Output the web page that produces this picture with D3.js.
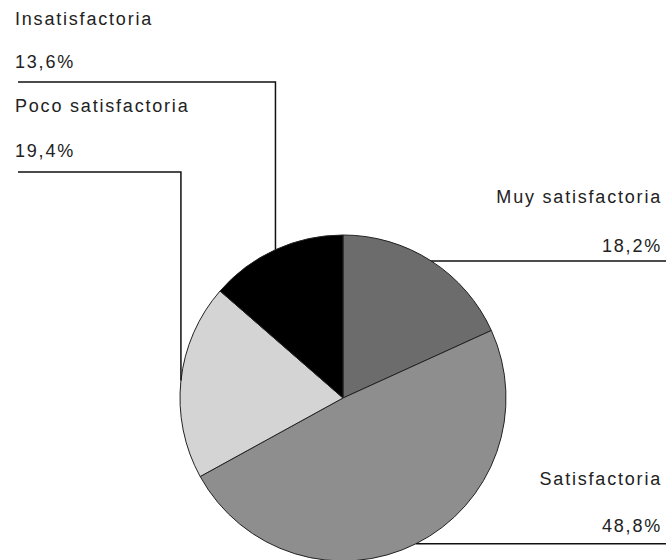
<!DOCTYPE html>
<html>
<head>
<meta charset="utf-8">
<script src="https://cdn.jsdelivr.net/npm/d3@7"></script>
<style>
  body { margin: 0; background: #fff; }
</style>
</head>
<body>
<div id="viz"></div>
<script>
const categories = ["Muy satisfactoria", "Satisfactoria", "Poco satisfactoria", "Insatisfactoria"];
const values = [18.2, 48.8, 19.4, 13.6];
const valueLabels = ["18,2%", "48,8%", "19,4%", "13,6%"];
const colors = ["#6c6c6c", "#8e8e8e", "#d4d4d4", "#000000"];

document.addEventListener("DOMContentLoaded", () => {
    const width = 666;
    const height = 560;
    const cx = 343, cy = 398, radius = 163;

    const svg = d3.select("#viz").append("svg")
        .attr("width", width)
        .attr("height", height);

    const pie = d3.pie().sort(null).value(d => d.value);
    const arcs = pie(categories.map((c, i) => ({ name: c, value: values[i], label: valueLabels[i], color: colors[i] })));
    const arc = d3.arc().innerRadius(0).outerRadius(radius);

    const g = svg.append("g").attr("transform", `translate(${cx},${cy})`);

    g.selectAll("path")
        .data(arcs)
        .enter()
        .append("path")
        .attr("d", arc)
        .attr("fill", d => d.data.color)
        .attr("stroke", "#222")
        .attr("stroke-width", 1);

    // label anchor positions (layout only)
    const labelPos = {
        "Muy satisfactoria": { side: "right", name: 203, pct: 252 },
        "Satisfactoria": { side: "right", name: 485, pct: 532 },
        "Poco satisfactoria": { side: "left", name: 112, pct: 157, line: 172 },
        "Insatisfactoria": { side: "left", name: 25, pct: 68, line: 82 }
    };

    arcs.forEach(d => {
        const mid = (d.startAngle + d.endAngle) / 2;
        const ex = cx + radius * Math.sin(mid);
        const ey = cy - radius * Math.cos(mid);
        const p = labelPos[d.data.name];
        let pts;
        if (p.side === "right") {
            pts = [[ex, ey], [width, ey]];
        } else {
            pts = [[ex, ey], [ex, p.line], [18, p.line]];
        }
        svg.append("path")
            .attr("d", d3.line()(pts))
            .attr("fill", "none")
            .attr("stroke", "#111")
            .attr("stroke-width", 1.5);

        const tx = p.side === "right" ? 662 : 15;
        const anchor = p.side === "right" ? "end" : "start";
        [[d.data.name, p.name], [d.data.label, p.pct]].forEach(([txt, y]) => {
            svg.append("text")
                .attr("x", tx)
                .attr("y", y)
                .attr("text-anchor", anchor)
                .style("font-family", "'Liberation Sans', Arial, sans-serif")
                .style("font-size", "18px")
                .style("letter-spacing", "1.8px")
                .attr("fill", "#222")
                .text(txt);
        });
    });
});
</script>
</body>
</html>
